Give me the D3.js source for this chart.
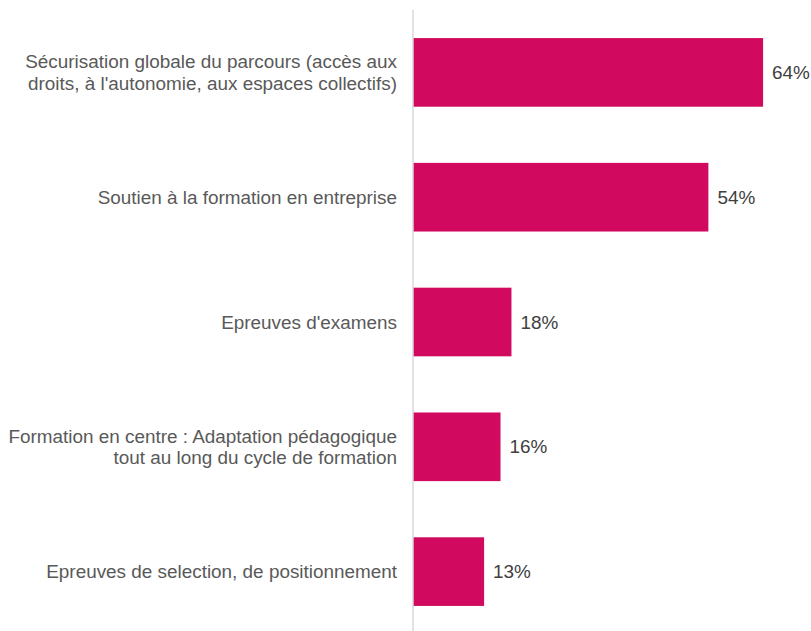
<!DOCTYPE html>
<html>
<head>
<meta charset="utf-8">
<script src="https://cdn.jsdelivr.net/npm/d3@7"></script>
<style>
  body { margin: 0; background: #fff; }
  svg text { font-family: "Liberation Sans", Arial, sans-serif; }
</style>
</head>
<body>
<div id="chart"></div>
<script>
const categories = [
  ["Sécurisation globale du parcours (accès aux", "droits, à l'autonomie, aux espaces collectifs)"],
  ["Soutien à la formation en entreprise"],
  ["Epreuves d'examens"],
  ["Formation en centre : Adaptation pédagogique", "tout au long du cycle de formation"],
  ["Epreuves de selection, de positionnement"]
];
const values = [64, 54, 18, 16, 13];

const W = 811, H = 631;
const dims = { left: 413, top: 10, bottom: 634, pxPerPct: 5.47, fontSize: 18.9 };

const svg = d3.select("#chart").append("svg")
  .attr("width", W).attr("height", H);

const rows = categories.map((lines, i) => ({ key: "c" + i, lines, value: values[i] }));

const yScale = d3.scaleBand()
  .domain(rows.map(d => d.key))
  .range([dims.top, dims.bottom])
  .paddingInner(0.45)
  .paddingOuter(0.225);
const xScale = d3.scaleLinear([0, 100], [dims.left, dims.left + 100 * dims.pxPerPct]);

svg.append("g").selectAll("rect")
  .data(rows)
  .join("rect")
    .attr("x", xScale(0))
    .attr("y", d => yScale(d.key))
    .attr("width", d => xScale(d.value) - xScale(0))
    .attr("height", yScale.bandwidth())
    .attr("fill", "#D1095F");

svg.append("line")
  .attr("x1", xScale(0)).attr("x2", xScale(0))
  .attr("y1", dims.top).attr("y2", H)
  .attr("stroke", "#d9d9d9").attr("stroke-width", 1.5);

svg.append("g").selectAll("text")
  .data(rows)
  .join("text")
    .attr("x", d => xScale(d.value) + 9)
    .attr("y", d => yScale(d.key) + yScale.bandwidth() / 2)
    .attr("dy", "0.35em")
    .attr("font-size", dims.fontSize)
    .attr("fill", "#404040")
    .text(d => d.value + "%");

const lab = svg.append("g").selectAll("text")
  .data(rows)
  .join("text")
    .attr("text-anchor", "end")
    .attr("font-size", dims.fontSize)
    .attr("fill", "#595959")
    .attr("y", d => yScale(d.key) + yScale.bandwidth() / 2);
lab.selectAll("tspan")
  .data(d => d.lines.map((t, i) => ({ t, i, n: d.lines.length })))
  .join("tspan")
    .attr("x", dims.left - 16)
    .attr("dy", d => d.i === 0 ? (0.35 - (d.n - 1) * 0.56) + "em" : "1.12em")
    .text(d => d.t);
</script>
</body>
</html>
